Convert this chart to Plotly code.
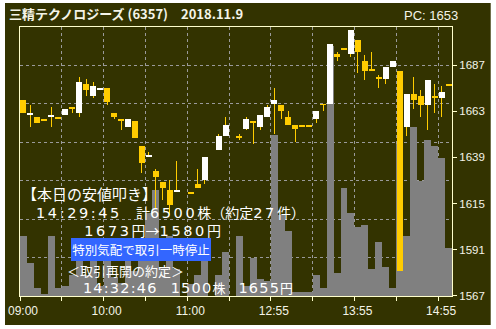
import plotly.graph_objects as go

# ---------------- data (5-minute bars, slot index 0..61; None = no trade) ----------------
opens  = [1669, 1661, 1660, 1659, 1660, 1660, 1661, 1665, 1662, 1677,
          1671, 1674, 1675, 1662, 1659, 1655, 1658, 1645, 1639, 1632,
          1626, 1622, 1621, None, 1621, 1625, 1627, None, 1643, 1650,
          None, 1650, 1654, 1658, 1655, 1660, 1667, 1666, 1660, 1656,
          1656, 1656, 1659, 1667, 1667, 1693, 1696, 1693, 1700, 1689,
          1685, 1681, 1680, 1686, 1684, 1655, 1672, 1671, 1666, 1671,
          1670, 1677]
highs  = [1669, 1666, 1660, 1659, 1665, 1660, 1664, 1665, 1681, 1680,
          1678, 1675, 1675, 1662, 1659, 1662, 1658, 1645, 1642, 1633,
          1626, 1627, 1637, None, 1621, 1633, 1639, None, 1651, 1660,
          None, 1651, 1660, 1658, 1661, 1666, 1675, 1666, 1663, 1656,
          1656, 1656, 1663, 1667, 1698, 1694, 1701, 1705, 1700, 1692,
          1694, 1682, 1686, 1689, 1684, 1672, 1681, 1674, 1679, 1677,
          1676, 1677]
lows   = [1662, 1655, 1657, 1658, 1655, 1659, 1661, 1662, 1660, 1671,
          1670, 1674, 1666, 1659, 1653, 1647, 1649, 1631, 1639, 1612,
          1617, 1609, 1621, None, 1620, 1623, 1625, None, 1643, 1650,
          None, 1648, 1653, 1646, 1653, 1660, 1651, 1659, 1656, 1647,
          1655, 1655, 1657, 1663, 1667, 1689, 1695, 1691, 1683, 1679,
          1684, 1675, 1677, 1686, 1580, 1650, 1664, 1660, 1653, 1662,
          1660, 1676]
closes = [1662, 1662, 1657, 1658, 1661, 1659, 1664, 1664, 1678, 1674,
          1676, 1675, 1668, 1660, 1658, 1659, 1649, 1636, 1640, 1629,
          1623, 1614, 1622, None, 1620, 1623, 1639, None, 1650, 1656,
          None, 1649, 1659, 1657, 1661, 1665, 1669, 1663, 1656, 1654,
          1655, 1655, 1663, 1666, 1698, 1691, 1695, 1705, 1694, 1684,
          1684, 1680, 1686, 1689, 1580, 1672, 1669, 1666, 1679, 1670,
          1673, 1676]
volumes = [3100, 1700, 400, 100, 3100, 400, 500, 1100, 1800, 1100,
           1800, 500, 2000, 1000, 700, 1800, 1300, 2400, 4300, 5500,
           1500, 3100, 1400, None, 600, 1100, 1800, None, 1100, 2300,
           None, 3100, 500, 2000, 900, 800, 8400, 4200, 3400, 200,
           200, 200, 1100, 400, 13000, 1200, 5600, 4300, 3600, 3700,
           1400, 2800, 1500, 400, 7900, 3100, 8800, 6000, 8100, 7800,
           7200, 2500]

n_slots = 62
time_label_slots = [0, 12, 24, 36, 48, 60]
time_labels = ["09:00", "10:00", "11:00", "12:55", "13:55", "14:55"]
price_ticks = [1567, 1591, 1615, 1639, 1663, 1687]

title_text = "三精テクノロジーズ (6357)\u30002018.11.9"
pc_text = "PC: 1653"

# ---------------- styling ----------------
PANEL = "#333300"
UP = "rgba(255,255,255,0.999)"
DOWN = "rgba(255,204,0,0.999)"
VOLC = "rgba(128,128,128,0.999)"
FRAME = "#ffffcc"
GRID = "#9a9a9a"
TXT = "#f4f4e8"

xs = [i + 0.5 for i in range(n_slots)]
body_base, body_h, body_col, wick_base, wick_h = [], [], [], [], []
for o, h, l, c in zip(opens, highs, lows, closes):
    if o is None:
        body_base.append(None); body_h.append(None); body_col.append(UP)
        wick_base.append(None); wick_h.append(None)
        continue
    body_base.append(min(o, c))
    body_h.append(max(abs(c - o), 1))
    body_col.append(UP if c >= o else DOWN)
    wick_base.append(l)
    wick_h.append(h - l)

fig = go.Figure()
fig.add_trace(go.Bar(x=xs, y=volumes, width=1.0, marker=dict(color=VOLC, line=dict(width=0)),
                     yaxis="y", hoverinfo="skip"))
fig.add_trace(go.Bar(x=xs, y=wick_h, base=wick_base, width=0.14,
                     marker=dict(color=DOWN, line=dict(width=0)), yaxis="y2", hoverinfo="skip"))
fig.add_trace(go.Bar(x=xs, y=body_h, base=body_base, width=0.86,
                     marker=dict(color=body_col, line=dict(width=0)), yaxis="y2", hoverinfo="skip"))

L, T, W, H = 20, 27, 432, 269
def ax(px): return (px - L) / W
def ay(py): return (T + H - py) / H
def dg(s, ls=2.6):
    return f'<span style="font-family:DejaVu Sans;font-size:14.5px;letter-spacing:{ls}px">{s}</span>'

JP = "Noto Sans CJK JP"
NB = "\u00a0"
IS = "\u3000"
group_a = ('<span style="font-size:15px">【本日の安値叩き】</span><br>'
           + IS + dg("14:29:45") + IS + "計" + dg("6500") + "株（約定" + dg("27") + "件）<br>"
           + IS * 4 + NB + NB + dg("1673") + "円→" + dg("1580") + "円")
group_b = ("＜取引再開の約定＞<br>" + IS + NB + dg("14:32:46", 1.2) + IS + dg("1500", 1.2) + "株" + IS
           + dg("1655", 1.2) + "円")

anns = [
    dict(text="<b>" + title_text + "</b>", x=ax(7), y=ay(14), xanchor="left", yanchor="middle",
         font=dict(family=JP, size=13, color=TXT)),
    dict(text=pc_text, x=ax(460), y=ay(16), xanchor="right", yanchor="middle",
         font=dict(family="Liberation Sans", size=13, color=TXT)),
    dict(text=group_a, x=ax(21), y=ay(211.5), xanchor="left", yanchor="middle", align="left",
         borderpad=0, font=dict(family=JP, size=14, color="#ffffff")),
    dict(text="特別気配で取引一時停止", x=ax(71), y=ay(238), xanchor="left", yanchor="top",
         width=140, height=23, borderpad=0, borderwidth=0, bgcolor="#3366ff",
         font=dict(family=JP, size=12.5, color="#ffffff")),
    dict(text=group_b, x=ax(66), y=ay(279), xanchor="left", yanchor="middle", align="left",
         borderpad=0, font=dict(family=JP, size=13, color="#ffffff")),
]
for a in anns:
    a.update(xref="paper", yref="paper", showarrow=False)

tickvals_x = list(range(0, 61, 6))
ticktext_x = [time_labels[time_label_slots.index(v)] if v in time_label_slots else "" for v in tickvals_x]

fig.update_layout(
    width=496, height=329,
    margin=dict(l=L, r=496 - L - W, t=T, b=329 - T - H, pad=0),
    paper_bgcolor="#ffffff", plot_bgcolor=PANEL,
    barmode="overlay", bargap=0, bargroupgap=0, showlegend=False,
    annotations=anns,
    shapes=[dict(type="rect", xref="paper", yref="paper", layer="below",
                 x0=ax(5), x1=ax(490.7), y0=ay(325), y1=ay(3),
                 fillcolor=PANEL, line=dict(width=0))],
    xaxis=dict(range=[0, n_slots], tickmode="array", tickvals=tickvals_x, ticktext=ticktext_x,
               ticks="outside", ticklen=4, tickcolor=FRAME, tickwidth=1,
               showgrid=True, gridcolor=GRID, griddash="3px,3px", gridwidth=1,
               showline=True, linecolor=FRAME, linewidth=1, mirror=True, zeroline=False,
               ticklabelshift=3, automargin=False,
               tickfont=dict(family="Liberation Sans", size=12, color=TXT)),
    yaxis=dict(range=[0, 14000], dtick=2000, tick0=0, showticklabels=False, ticks="",
               showgrid=True, gridcolor=GRID, griddash="3px,3px", gridwidth=1,
               showline=True, linecolor=FRAME, linewidth=1, mirror=True, zeroline=False,
               automargin=False),
    yaxis2=dict(range=[1566.9, 1706.8], overlaying="y", side="right", tickmode="array",
                tickvals=price_ticks, ticks="outside", ticklen=4, tickcolor=FRAME,
                showgrid=False, zeroline=False, showline=False, automargin=False,
                tickfont=dict(family="Liberation Sans", size=11.5, color=TXT)),
)

fig.write_html("out.html")
